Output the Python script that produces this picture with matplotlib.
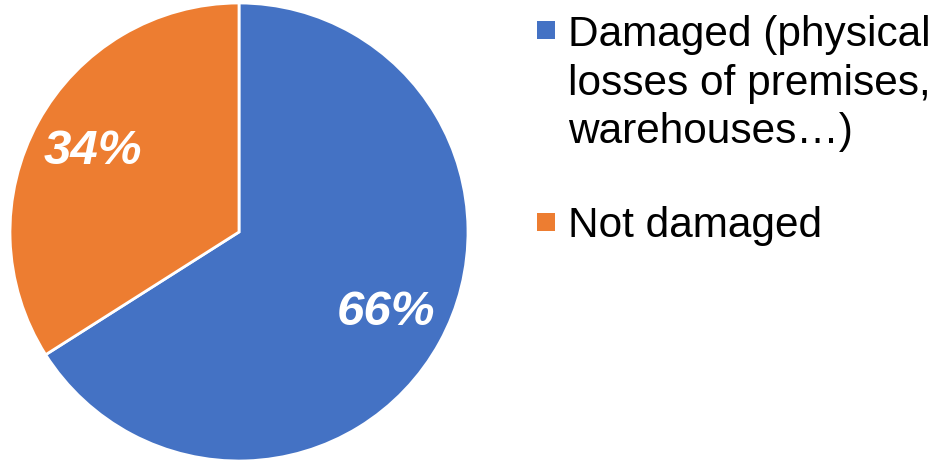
import matplotlib
matplotlib.use('Agg')
import matplotlib.pyplot as plt
from matplotlib.patches import Rectangle

plt.rcParams['font.family'] = ['Liberation Sans', 'DejaVu Sans']

labels = ['Damaged (physical\nlosses of premises,\nwarehouses\u2026)', 'Not damaged']
shares = [66, 34]
colors = ['#4472C4', '#ED7D31']

W, H = 935, 462
fig = plt.figure(figsize=(W / 100, H / 100), dpi=100)

# pie centre ~ (239, 232) px, radius ~229 px
cx, cy, r = 239, 232, 229
ax = fig.add_axes([(cx - r) / W, (H - cy - r) / H, 2 * r / W, 2 * r / H])
wedges, texts, autotexts = ax.pie(
    shares, colors=colors, startangle=90, counterclock=False,
    autopct='%1.0f%%', pctdistance=0.73,
    wedgeprops=dict(edgecolor='white', linewidth=2),
    textprops=dict(color='white', fontsize=35.5, fontweight='bold', fontstyle='italic'))
ax.set_xlim(-1, 1)
ax.set_ylim(-1, 1)
ax.set_aspect('equal')
ax.axis('off')

# legend drawn by hand; multi-line text is anchored on its last baseline
first_base = [45, 237]
last_base = [143, 237]
tx = 568
for lab, col, yf, yl in zip(labels, colors, first_base, last_base):
    fig.text(tx / W, (H - yl) / H, lab, fontsize=30.5, va='baseline', ha='left',
             linespacing=1.27, color='black')
    fig.patches.append(Rectangle((537 / W, (H - yf + 6) / H), 18 / W, 18 / H,
                                 transform=fig.transFigure, facecolor=col,
                                 edgecolor='none'))

fig.savefig('out.png', dpi=100)
